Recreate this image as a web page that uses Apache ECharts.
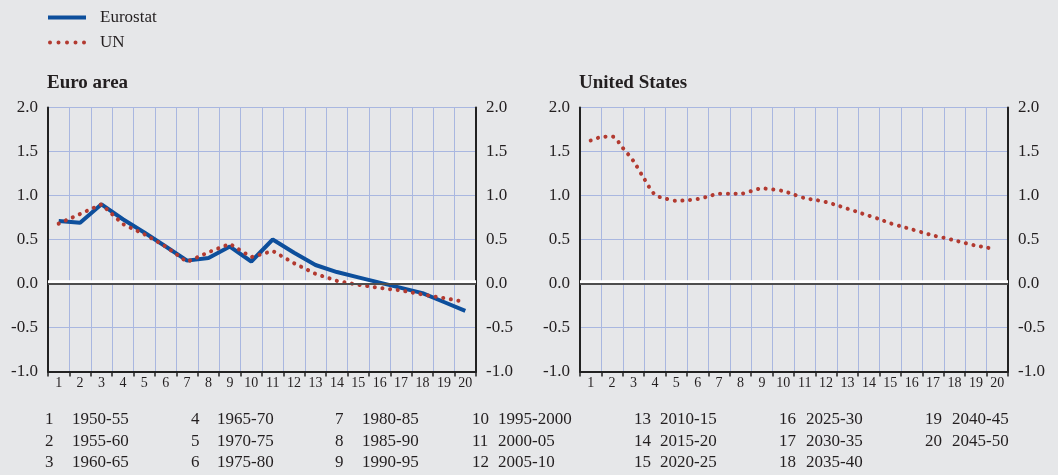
<!DOCTYPE html>
<html>
<head>
<meta charset="utf-8">
<script src="https://cdn.jsdelivr.net/npm/echarts@6/dist/echarts.min.js"></script>
<style>
html,body{margin:0;padding:0;background:#e6e7e9;}
#c{width:1058px;height:475px;}
</style>
</head>
<body>
<div id="c"></div>
<script>
// ---- data ----
const categories = ['1','2','3','4','5','6','7','8','9','10','11','12','13','14','15','16','17','18','19','20'];
const yTicks = [-1.0, -0.5, 0.0, 0.5, 1.0, 1.5, 2.0];
const euroEurostat = [0.71,0.69,0.90,0.73,0.58,0.42,0.26,0.29,0.42,0.25,0.50,0.35,0.21,0.13,0.07,0.01,-0.05,-0.11,-0.21,-0.31];
const euroUN = [0.68,0.79,0.90,0.675,0.56,0.42,0.245,0.355,0.45,0.30,0.37,0.23,0.11,0.03,-0.015,-0.05,-0.08,-0.125,-0.165,-0.21];
// US UN series read at half-period steps (position in period units from left edge)
const usUNpos = [0.5,1,1.5,2,2.5,3,3.5,4,4.5,5,5.5,6,6.5,7,7.5,8,8.5,9,9.5,10,10.5,11,11.5,12,12.5,13,13.5,14,14.5,15,15.5,16,16.5,17,17.5,18,18.5,19,19.3];
const usUN = [1.625,1.665,1.67,1.54,1.39,1.19,1.01,0.965,0.94,0.947,0.96,0.99,1.02,1.02,1.02,1.05,1.08,1.07,1.05,1.01,0.97,0.95,0.925,0.89,0.85,0.81,0.77,0.73,0.685,0.65,0.615,0.58,0.545,0.52,0.49,0.46,0.43,0.41,0.39];
const periods = ['1950-55','1955-60','1960-65','1965-70','1970-75','1975-80','1980-85','1985-90','1990-95','1995-2000','2000-05','2005-10','2010-15','2015-20','2020-25','2025-30','2030-35','2035-40','2040-45','2045-50'];
const panelTitles = ['Euro area', 'United States'];
const seriesNames = ['Eurostat', 'UN'];

// ---- style ----
const FONT = '"Liberation Serif","DejaVu Serif",serif';
const TXT = '#231f20';
const GRIDC = '#a9b7e0';
const BLUE = '#0d4f9c';
const RED = '#b23a30';
const gridLeft = [48, 580];
const gridW = 428;

const dotted = {color: RED, width: 4, type: [0.1, 7.6], cap: 'round', join: 'round'};

const grids = gridLeft.map(l => ({left: l, width: gridW, top: 107.5, height: 264}));

const xAxes = [];
const yAxes = [];
[0,1].forEach(g => {
  xAxes.push({
    type: 'category', gridIndex: g, data: categories, boundaryGap: true,
    axisLine: {show: true, onZero: false, lineStyle: {color: '#222', width: 2}},
    axisTick: {show: true, length: 5, interval: 0, lineStyle: {color: '#222', width: 1.5}},
    axisLabel: {interval: 0, fontFamily: FONT, fontSize: 14, color: TXT, margin: 5},
    splitLine: {show: true, interval: 0, lineStyle: {color: GRIDC, width: 1}}
  });
  xAxes.push({
    type: 'value', gridIndex: g, min: 0, max: 20, show: false
  });
  const ya = {
    type: 'value', gridIndex: g, min: yTicks[0], max: yTicks[yTicks.length-1], interval: 0.5,
    axisLine: {show: true, onZero: false, lineStyle: {color: '#222', width: 2}},
    axisTick: {show: false},
    axisLabel: {fontFamily: FONT, fontSize: 17, color: TXT, margin: 10, formatter: v => v.toFixed(1)}
  };
  yAxes.push(Object.assign({}, ya, {position: 'left', splitLine: {show: true, lineStyle: {color: GRIDC, width: 1}}}));
  yAxes.push(Object.assign({}, ya, {position: 'right', splitLine: {show: false}}));
});

const zeroMarks = {
  markLine: {silent: true, symbol: 'none', label: {show: false}, data: [{yAxis: 0}],
    lineStyle: {color: '#4d4d4d', width: 2, type: 'solid'}},
  markArea: {silent: true, data: [[{yAxis: 0}, {yAxis: 0.036}]], itemStyle: {color: '#ffffff', opacity: 1}}
};

const series = [
  Object.assign({
    name: seriesNames[0], type: 'line', xAxisIndex: 0, yAxisIndex: 0, data: euroEurostat,
    symbol: 'none', lineStyle: {color: BLUE, width: 4}, itemStyle: {color: BLUE}, z: 3
  }, zeroMarks),
  {
    name: seriesNames[1], type: 'line', xAxisIndex: 1, yAxisIndex: 0,
    data: euroUN.map((v, i) => [i + 0.5, v]),
    symbol: 'none', lineStyle: dotted, itemStyle: {color: RED}, z: 4
  },
  Object.assign({
    name: seriesNames[1], type: 'line', xAxisIndex: 3, yAxisIndex: 2,
    data: usUN.map((v, i) => [usUNpos[i], v]), smooth: 0.3,
    symbol: 'none', lineStyle: dotted, itemStyle: {color: RED}, z: 4
  }, zeroMarks)
];

// legend icons: solid bar and a row of dots
const dot = x => 'M' + x + ',2a2,2 0 1,0 4,0a2,2 0 1,0 -4,0Z';
const dotsPath = 'path://' + [0, 8.5, 17, 25.5, 34].map(dot).join('');
const barPath = 'path://M0,0H38V4H0Z';

// key text below the charts
const colNumX = [45, 191, 335, 472, 634, 779, 925];
const colPerX = [72, 217, 362, 498, 660, 806, 952];
const rowY = [421.5, 443, 464.5];
const keyEls = [];
periods.forEach((p, i) => {
  const col = Math.floor(i / 3), row = i % 3;
  keyEls.push({type: 'text', left: colNumX[col], top: rowY[row] - 10, silent: true,
    style: {text: String(i + 1), fontFamily: FONT, fontSize: 17, fill: TXT}});
  keyEls.push({type: 'text', left: colPerX[col], top: rowY[row] - 10, silent: true,
    style: {text: p, fontFamily: FONT, fontSize: 17, fill: TXT}});
});

const chart = echarts.init(document.getElementById('c'), null, {renderer: 'canvas'});
chart.setOption({
  backgroundColor: '#e6e7e9',
  animation: false,
  title: panelTitles.map((t, i) => ({text: t, left: gridLeft[i] - 1, top: 74, padding: 0,
    textStyle: {fontFamily: FONT, fontWeight: 'bold', fontSize: 19, color: TXT}})),
  legend: {
    orient: 'vertical', left: 48, top: 9, padding: 0, itemWidth: 38, itemHeight: 16, itemGap: 8,
    data: [
      {name: seriesNames[0], icon: barPath, itemStyle: {color: BLUE}},
      {name: seriesNames[1], icon: dotsPath, itemStyle: {color: RED}}
    ],
    textStyle: {fontFamily: FONT, fontSize: 17, color: TXT, padding: [0, 0, 0, 9]}
  },
  grid: grids,
  xAxis: xAxes,
  yAxis: yAxes,
  series: series,
  graphic: {elements: keyEls}
});
</script>
</body>
</html>
